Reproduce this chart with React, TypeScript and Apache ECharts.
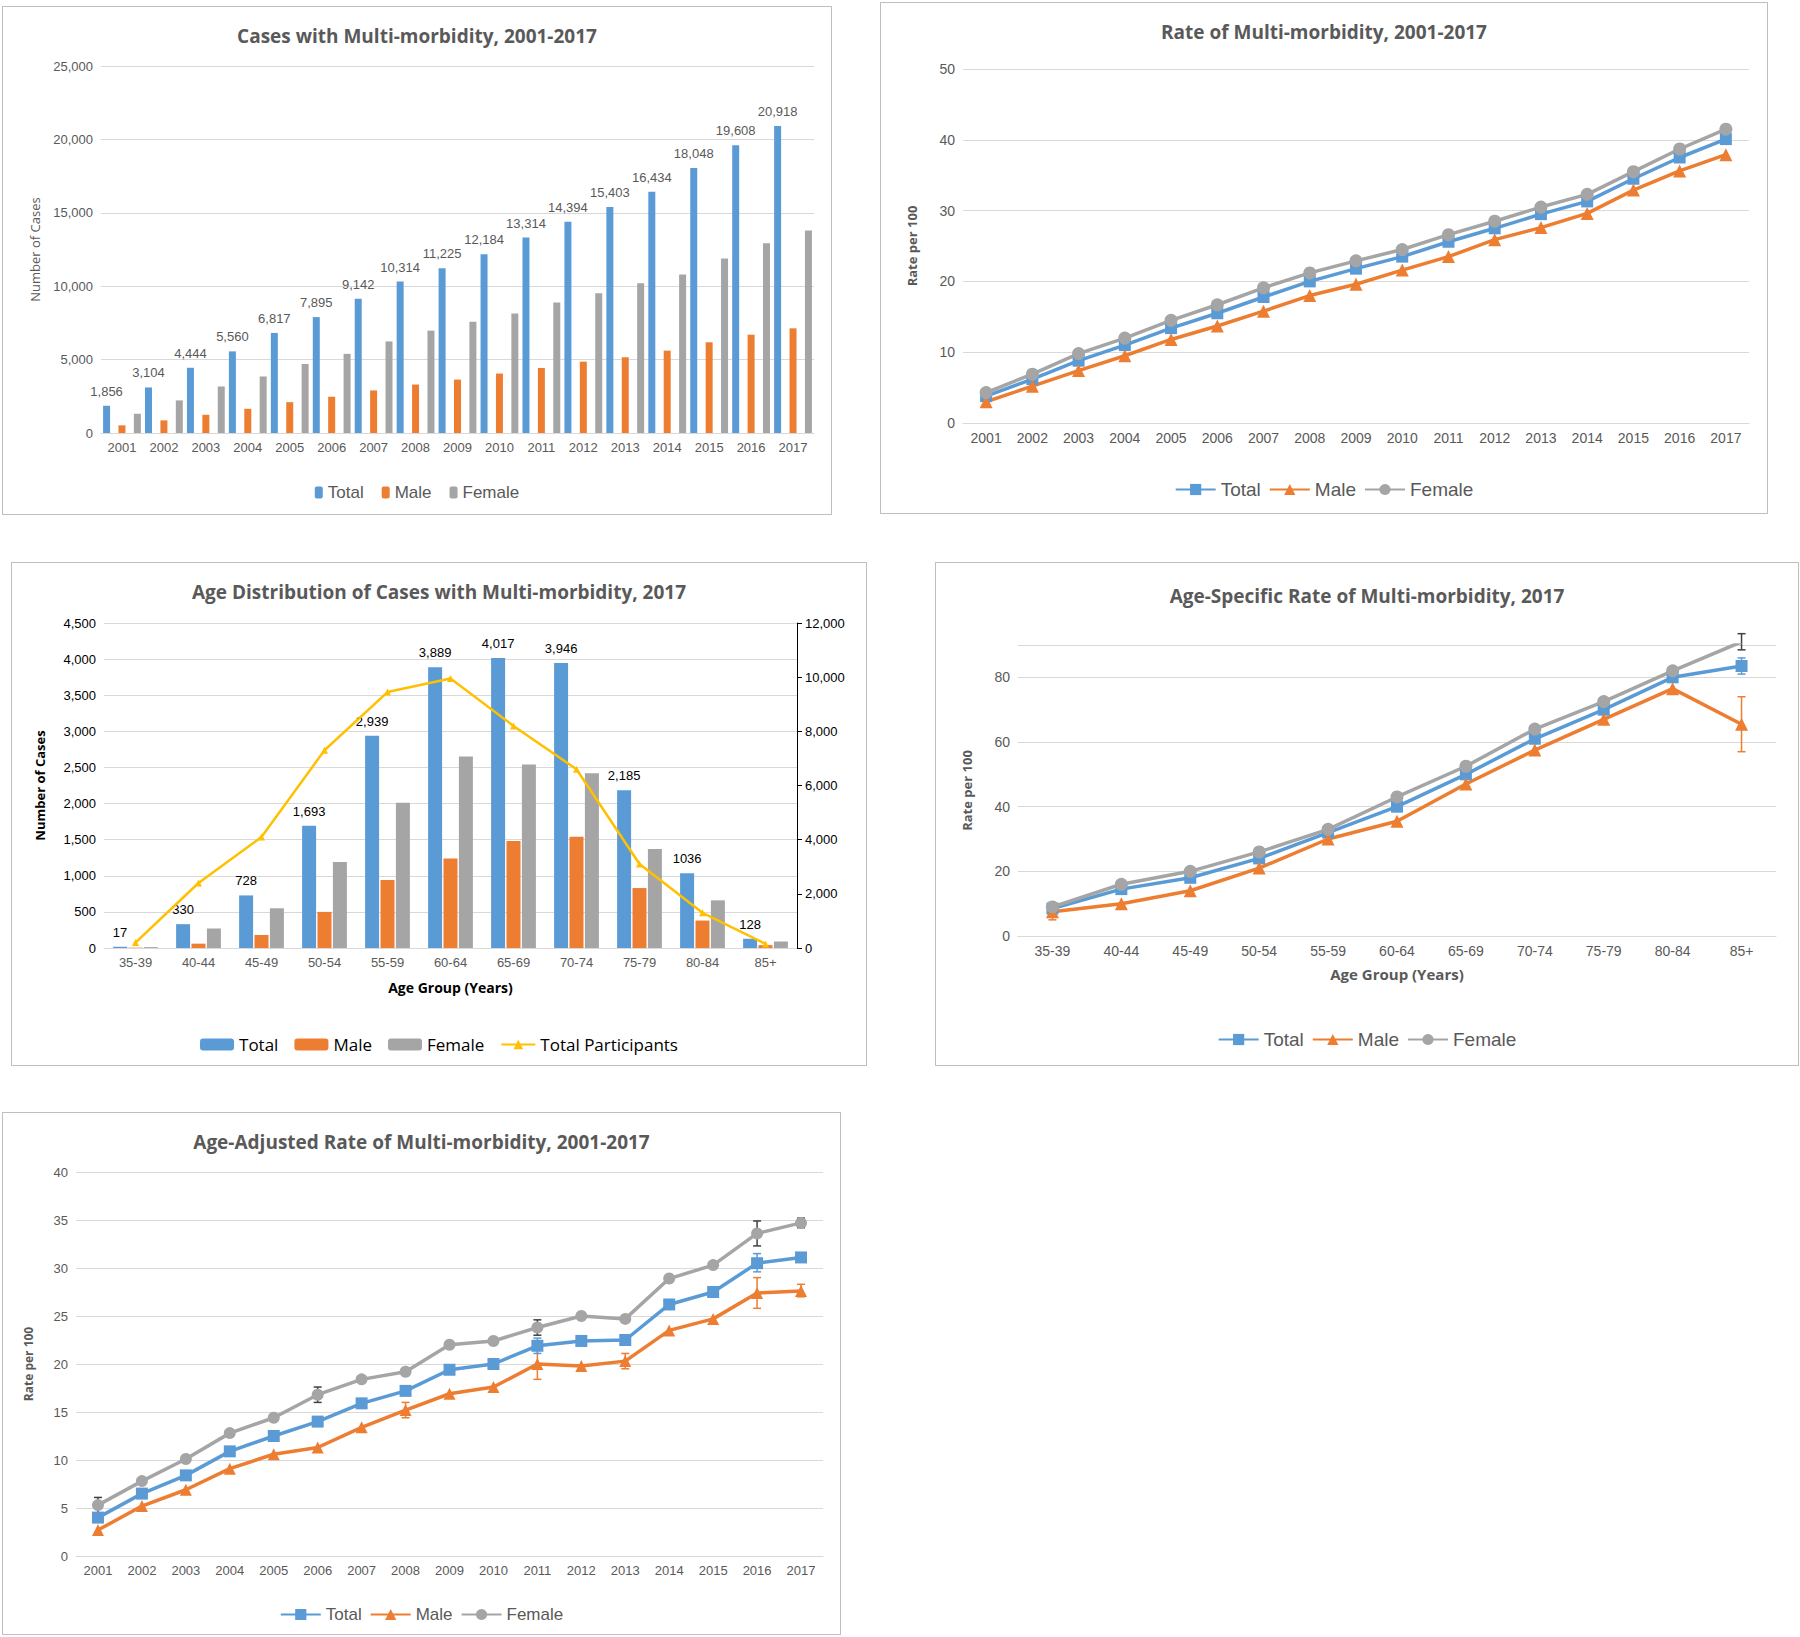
import React, { useEffect, useRef } from 'react';
import * as echarts from 'echarts';

const years = ['2001','2002','2003','2004','2005','2006','2007','2008','2009','2010','2011','2012','2013','2014','2015','2016','2017'];
const casesTotal = [1856,3104,4444,5560,6817,7895,9142,10314,11225,12184,13314,14394,15403,16434,18048,19608,20918];
const casesMale = [520,860,1240,1650,2100,2470,2900,3300,3640,4050,4430,4860,5160,5610,6180,6700,7130];
const casesFemale = [1310,2220,3170,3850,4700,5390,6240,6970,7580,8140,8890,9520,10200,10790,11880,12920,13800];

const rateTotal = [3.8,6.2,8.8,11,13.4,15.5,17.8,20,21.8,23.5,25.6,27.5,29.5,31.3,34.5,37.5,40.1];
const rateMale = [3.0,5.2,7.4,9.5,11.8,13.7,15.8,18,19.6,21.6,23.5,25.9,27.6,29.6,32.9,35.6,37.9];
const rateFemale = [4.3,6.9,9.8,12,14.5,16.7,19.1,21.2,22.9,24.5,26.6,28.5,30.5,32.3,35.5,38.7,41.5];

const ages = ['35-39','40-44','45-49','50-54','55-59','60-64','65-69','70-74','75-79','80-84','85+'];
const ageTotal = [17,330,728,1693,2939,3889,4017,3946,2185,1036,128];
const ageMale = [5,60,180,500,940,1240,1480,1540,830,380,40];
const ageFemale = [12,270,550,1190,2010,2650,2540,2420,1370,660,90];
const ageParticipants = [200,2400,4100,7300,9450,9950,8200,6600,3100,1300,150];

const asrTotal = [8.5,14.5,18,24,32,40,50,61,70,80,83.5];
const asrMale = [7.5,10,14,21,30,35.5,47,57.5,67,76.5,65.5];
const asrFemale = [9,16,20,26,33,43,52.5,64,72.5,82,91];
// [index, low, high]
const asrErrMale = [[0,5,10],[10,57,74]];
const asrErrFemale = [[10,88.5,93.5]];
const asrErrTotal = [[10,81,86]];

const aarTotal = [4.0,6.5,8.4,10.9,12.5,14.0,15.9,17.2,19.4,20.0,21.9,22.4,22.5,26.2,27.5,30.5,31.1];
const aarMale = [2.7,5.2,6.9,9.1,10.6,11.3,13.4,15.2,16.9,17.6,20.0,19.8,20.3,23.5,24.7,27.4,27.6];
const aarFemale = [5.3,7.8,10.1,12.8,14.4,16.8,18.4,19.2,22.0,22.4,23.8,25.0,24.7,28.9,30.3,33.6,34.7];
const aarErrTotal = [[10,21.1,22.7],[15,29.6,31.5]];
const aarErrMale = [[7,14.4,16],[10,18.4,21.6],[12,19.5,21.1],[15,25.8,29],[16,27,28.3]];
const aarErrFemale = [[0,4.5,6.1],[5,16,17.6],[10,23,24.6],[15,32.3,34.9],[16,34.2,35.2]];

const BLUE = '#5B9BD5';
const ORANGE = '#ED7D31';
const GRAY = '#A5A5A5';
const YELLOW = '#FFC000';
const FONT = "'Liberation Sans Narrow', 'Liberation Sans', sans-serif";
const TXT = '#595959';

const title = (text: string, top: number) => ({
  text, left: 'center', top,
  textStyle: { fontFamily: "'Open Sans', sans-serif", fontSize: 19, fontWeight: 'bold', color: '#595959' },
});

const errSeries = (data: number[][], color: string) => ({
  type: 'custom',
  silent: true,
  data,
  z: 1,
  renderItem: (_p: any, api: any) => {
    const x = api.value(0);
    const lo = api.coord([x, api.value(1)]);
    const hi = api.coord([x, api.value(2)]);
    const st = { stroke: color, lineWidth: 1.5 };
    return {
      type: 'group',
      children: [
        { type: 'line', shape: { x1: lo[0], y1: lo[1], x2: hi[0], y2: hi[1] }, style: st },
        { type: 'line', shape: { x1: lo[0] - 4, y1: lo[1], x2: lo[0] + 4, y2: lo[1] }, style: st },
        { type: 'line', shape: { x1: hi[0] - 4, y1: hi[1], x2: hi[0] + 4, y2: hi[1] }, style: st },
      ],
    };
  },
});

const lineS = (name: string, data: number[], color: string, symbol: string, size: number) => ({
  name, type: 'line', data, symbol, symbolSize: size, z: 3,
  lineStyle: { color, width: 3.5 }, itemStyle: { color },
});

const catAxis = (data: string[], fs: number) => ({
  type: 'category', data,
  axisTick: { show: false },
  axisLine: { lineStyle: { color: '#d9d9d9' } },
  axisLabel: { color: TXT, fontSize: fs, fontFamily: FONT, interval: 0 },
});

const valAxis = (max: number, interval: number, fs: number, extra: any = {}) => ({
  type: 'value', min: 0, max, interval,
  axisLabel: { color: TXT, fontSize: fs, fontFamily: FONT },
  splitLine: { lineStyle: { color: '#d9d9d9' } },
  nameTextStyle: { color: TXT, fontSize: 13, fontWeight: 'bold', fontFamily: "'Open Sans', sans-serif" },
  ...extra,
});

const legendLine = (top: number, fs: number) => ({
  bottom: undefined, top, left: 'center',
  itemWidth: 40, itemHeight: 14, itemGap: 8,
  textStyle: { color: TXT, fontSize: fs, fontFamily: FONT },
});

const opt1 = {
  animation: false,
  title: title('Cases with Multi-morbidity, 2001-2017', 14),
  grid: { left: 98, right: 17, top: 59, bottom: 81 },
  legend: { top: 472, left: 'center', itemWidth: 8, itemHeight: 12, itemGap: 18, textStyle: { color: TXT, fontSize: 17, fontFamily: FONT } },
  xAxis: catAxis(years, 13),
  yAxis: valAxis(25000, 5000, 13, {
    name: 'Number of Cases', nameLocation: 'middle', nameGap: 60,
    nameTextStyle: { color: TXT, fontSize: 13, fontFamily: "'Open Sans', sans-serif" },
    axisLabel: { color: TXT, fontSize: 13, fontFamily: FONT, formatter: (v: number) => v.toLocaleString('en-US') },
  }),
  series: [
    { name: 'Total', type: 'bar', data: casesTotal, itemStyle: { color: BLUE }, barWidth: 7, barGap: '120%',
      label: { show: true, position: 'top', distance: 8, color: TXT, fontSize: 13, fontFamily: FONT, formatter: (p: any) => p.value.toLocaleString('en-US') } },
    { name: 'Male', type: 'bar', data: casesMale, itemStyle: { color: ORANGE }, barWidth: 7, barGap: '120%' },
    { name: 'Female', type: 'bar', data: casesFemale, itemStyle: { color: GRAY }, barWidth: 7, barGap: '120%' },
  ],
};

const opt2 = {
  animation: false,
  title: title('Rate of Multi-morbidity, 2001-2017', 14),
  grid: { left: 82, right: 18, top: 66, bottom: 90 },
  legend: legendLine(472, 19),
  xAxis: catAxis(years, 14),
  yAxis: valAxis(50, 10, 14, { name: 'Rate per 100', nameLocation: 'middle', nameGap: 45 }),
  series: [
    lineS('Total', rateTotal, BLUE, 'rect', 12),
    lineS('Male', rateMale, ORANGE, 'triangle', 13),
    lineS('Female', rateFemale, GRAY, 'circle', 13),
  ],
};

const opt3 = {
  animation: false,
  title: title('Age Distribution of Cases with Multi-morbidity, 2017', 14),
  grid: { left: 92, right: 69, top: 60, bottom: 117 },
  legend: { top: 468, left: 'center', itemWidth: 34, itemHeight: 12, itemGap: 16, textStyle: { color: '#000', fontSize: 17, fontFamily: "'Open Sans', sans-serif" } },
  xAxis: { ...catAxis(ages, 13), name: 'Age Group (Years)', nameLocation: 'middle', nameGap: 32,
    nameTextStyle: { color: '#000', fontSize: 14, fontWeight: 'bold', fontFamily: "'Open Sans', sans-serif" } },
  yAxis: [
    valAxis(4500, 500, 13, { name: 'Number of Cases', nameLocation: 'middle', nameGap: 58,
      nameTextStyle: { color: '#000', fontSize: 13, fontWeight: 'bold', fontFamily: "'Open Sans', sans-serif" },
      axisLabel: { color: '#000', fontSize: 13, fontFamily: FONT } }),
    valAxis(12000, 2000, 13, { splitLine: { show: false }, axisLine: { show: true, lineStyle: { color: '#000' } },
      axisTick: { show: true }, axisLabel: { color: '#000', fontSize: 13, fontFamily: FONT } }),
  ],
  series: [
    { name: 'Total', type: 'bar', data: ageTotal, itemStyle: { color: BLUE }, barWidth: 14, barGap: '10%',
      label: { show: true, position: 'top', distance: 8, color: '#000', fontSize: 13, fontFamily: FONT,
        formatter: (p: any) => (p.value >= 1000 && p.value < 1100 ? String(p.value) : p.value.toLocaleString('en-US')) } },
    { name: 'Male', type: 'bar', data: ageMale, itemStyle: { color: ORANGE }, barWidth: 14, barGap: '10%' },
    { name: 'Female', type: 'bar', data: ageFemale, itemStyle: { color: GRAY }, barWidth: 14, barGap: '10%' },
    { name: 'Total Participants', type: 'line', yAxisIndex: 1, data: ageParticipants, symbol: 'triangle', symbolSize: 7,
      lineStyle: { color: YELLOW, width: 2.5 }, itemStyle: { color: YELLOW } },
  ],
};

const opt4 = {
  animation: false,
  title: title('Age-Specific Rate of Multi-morbidity, 2017', 18),
  grid: { left: 82, right: 22, top: 82, bottom: 129 },
  legend: legendLine(462, 19),
  xAxis: { ...catAxis(ages, 14), name: 'Age Group (Years)', nameLocation: 'middle', nameGap: 30,
    nameTextStyle: { color: TXT, fontSize: 15, fontWeight: 'bold', fontFamily: "'Open Sans', sans-serif" } },
  yAxis: valAxis(90, 20, 14, { name: 'Rate per 100', nameLocation: 'middle', nameGap: 45,
    axisLabel: { color: TXT, fontSize: 14, fontFamily: FONT, showMaxLabel: false } }),
  series: [
    errSeries(asrErrMale, ORANGE),
    errSeries(asrErrFemale, '#404040'),
    errSeries(asrErrTotal, BLUE),
    lineS('Total', asrTotal, BLUE, 'rect', 12),
    lineS('Male', asrMale, ORANGE, 'triangle', 13),
    lineS('Female', asrFemale, GRAY, 'circle', 13),
  ],
};

const opt5 = {
  animation: false,
  title: title('Age-Adjusted Rate of Multi-morbidity, 2001-2017', 14),
  grid: { left: 73, right: 17, top: 59, bottom: 78 },
  legend: legendLine(488, 17),
  xAxis: catAxis(years, 13),
  yAxis: valAxis(40, 5, 13, { name: 'Rate per 100', nameLocation: 'middle', nameGap: 42,
    nameTextStyle: { color: TXT, fontSize: 12, fontWeight: 'bold', fontFamily: "'Open Sans', sans-serif" } }),
  series: [
    errSeries(aarErrFemale, '#404040'),
    errSeries(aarErrMale, ORANGE),
    errSeries(aarErrTotal, BLUE),
    lineS('Total', aarTotal, BLUE, 'rect', 12),
    lineS('Male', aarMale, ORANGE, 'triangle', 12),
    lineS('Female', aarFemale, GRAY, 'circle', 12),
  ],
};

const Chart: React.FC<{ option: any; box: number[] }> = ({ option, box }) => {
  const ref = useRef<HTMLDivElement>(null);
  useEffect(() => {
    if (!ref.current) return;
    const inst = echarts.init(ref.current, undefined, { renderer: 'svg' });
    inst.setOption(option);
    return () => inst.dispose();
  }, [option]);
  const [left, top, width, height] = box;
  return (
    <div ref={ref} style={{ position: 'absolute', left, top, width, height, border: '1px solid #bfbfbf', boxSizing: 'border-box', background: '#fff' }} />
  );
};

export default function App() {
  useEffect(() => {
    document.body.style.margin = '0';
  }, []);
  return (
    <div style={{ position: 'relative', width: 1800, height: 1637, background: '#fff' }}>
      <Chart option={opt1} box={[2, 6, 830, 509]} />
      <Chart option={opt2} box={[880, 2, 888, 512]} />
      <Chart option={opt3} box={[11, 562, 856, 504]} />
      <Chart option={opt4} box={[935, 562, 864, 504]} />
      <Chart option={opt5} box={[2, 1112, 839, 523]} />
    </div>
  );
}
